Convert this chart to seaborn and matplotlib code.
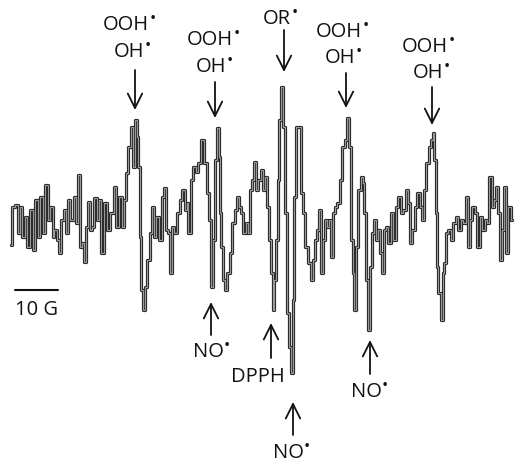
import numpy as np
import pandas as pd
import matplotlib
matplotlib.use("Agg")
import matplotlib.pyplot as plt
import matplotlib.patheffects as pe
import seaborn as sns

sns.set_theme(style="white")
plt.rcParams["font.family"] = ["Open Sans", "DejaVu Sans"]

# field position (arbitrary units, 43 units = 10 G) and EPR signal (a.u.)
field = [11, 13, 17, 18, 21, 23, 26, 28, 32, 33, 37, 38, 42, 43, 47, 48, 52, 53, 55, 58,
         60, 62, 65, 67, 68, 72, 75, 77, 79, 81, 83, 85, 87, 89, 91, 93, 95, 98, 100, 102,
         105, 108, 112, 115, 117, 120, 123, 125, 127, 129, 132, 133, 136, 137, 139, 140, 142, 143, 146, 148,
         151, 153, 155, 157, 160, 163, 165, 167, 169, 171, 173, 175, 178, 181, 183, 186, 187, 189, 192, 194,
         197, 199, 203, 205, 208, 210, 212, 214, 216, 218, 219, 220, 222, 224, 226, 228, 231, 233, 236, 238,
         239, 242, 244, 247, 249, 251, 253, 255, 257, 259, 262, 263, 266, 268, 270, 272, 273, 275, 277, 278,
         280, 282, 284, 286, 288, 290, 292, 293, 295, 297, 299, 302, 303, 307, 309, 312, 313, 316, 318, 320,
         322, 324, 326, 328, 330, 332, 333, 336, 338, 341, 343, 346, 347, 350, 352, 353, 355, 357, 359, 362,
         363, 365, 367, 369, 371, 373, 375, 377, 378, 381, 383, 385, 387, 389, 392, 394, 397, 399, 402, 404,
         407, 408, 411, 413, 416, 418, 421, 423, 425, 427, 430, 432, 433, 435, 436, 437, 439, 442, 443, 445,
         447, 449, 452, 454, 457, 459, 462, 464, 467, 469, 471, 473, 476, 478, 481, 483, 486, 488, 490, 493,
         495, 497, 498, 501, 503, 505, 507, 509, 512]
signal = [-15, 23, 25, -3, 23, -7, 13, -17, 20, -20, 30, -7, 33, -3, 45, 10, 23, -7, 0, -10,
          -23, 10, 20, -3, 30, 10, 33, 7, 55, -17, -13, -32, 3, 28, 0, 3, 32, 10, 30, -23,
          27, 0, 17, 43, 3, 33, 3, 30, 57, 83, 103, 63, 110, 93, 63, -7, -60, -80, -57, -30,
          -3, 23, -7, 13, -10, 33, 42, 0, -3, -43, 3, -3, 17, 30, 40, 20, 27, -3, 50, 63,
          58, 67, 90, 67, 37, 10, -57, -10, 70, 102, 73, 17, -17, -50, -60, -43, -23, 7, 20, 33,
          23, 17, -3, 7, -3, 40, 50, 68, 40, 50, 60, 40, 53, 23, -10, -43, -80, -50, -10, 50,
          110, 143, 103, 17, -83, -117, -143, -70, 33, 103, 103, 37, 17, -17, -33, -50, -30, -10, 0, 20,
          -43, -10, 10, 3, 10, -27, 17, 23, 27, 50, 83, 90, 112, 83, -10, -43, -80, -17, 40, 53,
          47, 17, -50, -100, -37, -3, 10, -10, 0, -23, -43, 0, 3, -13, 17, -10, 23, 33, 17, 20,
          40, 27, -13, 0, 23, 37, 23, 10, 40, 67, 83, 90, 97, 70, 17, -37, -63, -90, -43, -33,
          -3, 0, -10, 7, 13, 0, 10, 7, 33, -17, 10, 23, 17, -17, 13, 0, 10, 7, 53, 23,
          30, 43, 17, -30, 0, 43, -23, 23, 10]

df = pd.DataFrame({"field": field, "signal": signal})

fig = plt.figure(figsize=(5.14, 4.65), dpi=100)
ax = fig.add_axes([0, 0, 1, 1])
sns.lineplot(data=df, x="field", y="signal", ax=ax, color="#9a9a9a", linewidth=0.9,
             drawstyle="steps-mid", estimator=None, sort=False,
             path_effects=[pe.Stroke(linewidth=2.3, foreground="#1e1e1e"), pe.Normal()])
ax.set_xlim(0, 514)
ax.set_ylim(-235, 230)
ax.axis("off")

FS = 14.5

def label(x, y, s):
    t = ax.text(x, y, s, ha="center", va="center", fontsize=FS, color="#111111")
    ax.annotate("\u2022", xy=(1.0, 0.8), xycoords=t, xytext=(0.3, 0),
                textcoords="offset points", ha="left", va="center",
                fontsize=12, color="#111111")

def arrow(x, y_tail, y_head):
    ax.annotate("", xy=(x, y_head), xytext=(x, y_tail),
                arrowprops=dict(arrowstyle="->", lw=1.3, color="#111111",
                                mutation_scale=26, shrinkA=0, shrinkB=0))

# top annotations (y in data units)
top = [
    (126, 205, 129, 178, 135, 160, 120),
    (210, 190, 211, 163, 215, 148, 112),
    (339, 198, 340, 172, 346, 157, 122),
    (425, 183, 428, 157, 432, 143, 105),
]
for xo, yo, xh, yh, xa, ya0, ya1 in top:
    label(xo, yo, "OOH")
    label(xh, yh, "OH")
    arrow(xa, ya0, ya1)

label(277, 211, "OR")
arrow(284, 200, 158)

# bottom annotations
arrow(211, -105, -72)
label(208, -122, "NO")
arrow(271, -128, -93)
ax.text(258, -147, "DPPH", ha="center", va="center", fontsize=FS, color="#111111")
arrow(370, -144, -110)
label(366, -162, "NO")
arrow(293, -205, -172)
label(288, -223, "NO")

# scale bar
ax.plot([15, 58], [-60, -60], color="#111111", lw=1.5)
ax.text(15, -80, "10 G", ha="left", va="center", fontsize=FS, color="#111111")

fig.savefig("out.png", dpi=100)
